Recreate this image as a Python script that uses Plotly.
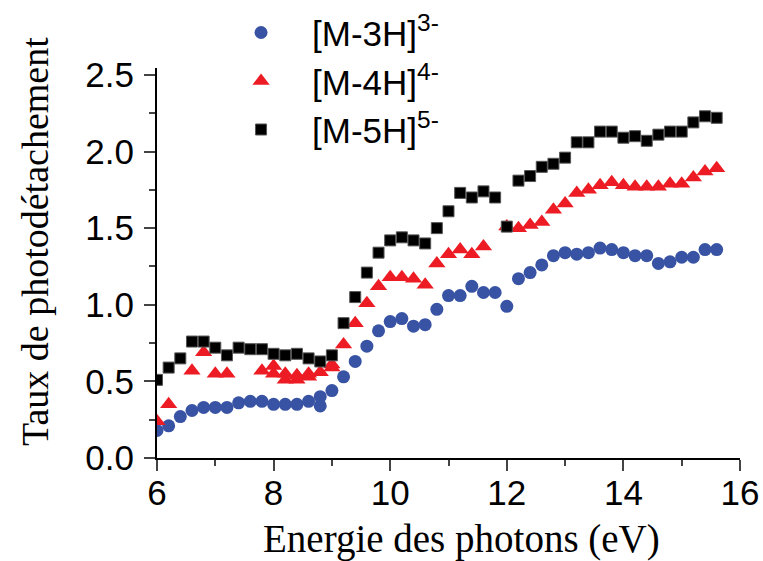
import plotly.graph_objects as go

# Energie des photons (eV)
x_3h = [6.0, 6.2, 6.4, 6.6, 6.8, 7.0, 7.2, 7.4, 7.6, 7.8, 8.0, 8.2, 8.4, 8.6, 8.8, 8.8,
        9.0, 9.2, 9.4, 9.6, 9.8, 10.0, 10.2, 10.4, 10.6, 10.8, 11.0, 11.2, 11.4, 11.6, 11.8,
        12.0, 12.2, 12.4, 12.6, 12.8, 13.0, 13.2, 13.4, 13.6, 13.8, 14.0, 14.2, 14.4, 14.6,
        14.8, 15.0, 15.2, 15.4, 15.6]
y_3h = [0.18, 0.21, 0.27, 0.31, 0.33, 0.33, 0.33, 0.36, 0.37, 0.37, 0.35, 0.35, 0.35, 0.37, 0.40, 0.34,
        0.44, 0.53, 0.63, 0.73, 0.83, 0.89, 0.91, 0.86, 0.87, 0.97, 1.06, 1.06, 1.12, 1.08, 1.08,
        0.99, 1.17, 1.21, 1.26, 1.32, 1.34, 1.33, 1.34, 1.37, 1.36, 1.34, 1.32, 1.32, 1.27,
        1.28, 1.31, 1.31, 1.36, 1.36]

x_4h = [6.0, 6.2, 6.6, 6.8, 7.0, 7.2, 7.8, 8.0, 8.0, 8.2, 8.2, 8.4, 8.4, 8.6, 8.6, 8.8,
        9.0, 9.0, 9.2, 9.4, 9.6, 9.8, 10.0, 10.2, 10.4, 10.6, 10.8, 11.0, 11.2, 11.4, 11.6,
        12.0, 12.2, 12.4, 12.6, 12.8, 13.0, 13.2, 13.4, 13.6, 13.8, 14.0, 14.2, 14.4, 14.6,
        14.8, 15.0, 15.2, 15.4, 15.6]
y_4h = [0.24, 0.35, 0.57, 0.69, 0.55, 0.55, 0.57, 0.60, 0.55, 0.55, 0.51, 0.54, 0.51, 0.55, 0.53, 0.56,
        0.61, 0.59, 0.74, 0.88, 1.01, 1.12, 1.18, 1.18, 1.17, 1.13, 1.27, 1.33, 1.36, 1.33, 1.38,
        1.51, 1.50, 1.52, 1.54, 1.62, 1.66, 1.73, 1.75, 1.78, 1.80, 1.78, 1.77, 1.77, 1.77,
        1.79, 1.79, 1.83, 1.87, 1.89]

x_5h = [6.0, 6.2, 6.4, 6.6, 6.8, 7.0, 7.2, 7.4, 7.6, 7.8, 8.0, 8.2, 8.4, 8.6, 8.8,
        9.0, 9.2, 9.4, 9.6, 9.8, 10.0, 10.2, 10.4, 10.6, 10.8, 11.0, 11.2, 11.4, 11.6, 11.8,
        12.0, 12.2, 12.4, 12.6, 12.8, 13.0, 13.2, 13.4, 13.6, 13.8, 14.0, 14.2, 14.4, 14.6,
        14.8, 15.0, 15.2, 15.4, 15.6]
y_5h = [0.51, 0.59, 0.65, 0.76, 0.76, 0.72, 0.67, 0.72, 0.71, 0.71, 0.68, 0.67, 0.68, 0.65, 0.63,
        0.67, 0.88, 1.05, 1.21, 1.34, 1.42, 1.44, 1.42, 1.40, 1.50, 1.61, 1.73, 1.70, 1.74, 1.70,
        1.51, 1.81, 1.84, 1.90, 1.92, 1.96, 2.06, 2.06, 2.13, 2.13, 2.09, 2.10, 2.07, 2.11,
        2.13, 2.13, 2.19, 2.23, 2.22]

names = ["[M-3H]<sup>3-</sup>", "[M-4H]<sup>4-</sup>", "[M-5H]<sup>5-</sup>"]
x_title = "Energie des photons (eV)"
y_title = "Taux de photodétachement"
x_ticks = [6, 8, 10, 12, 14, 16]
y_ticks = [0.0, 0.5, 1.0, 1.5, 2.0, 2.5]
y_tick_labels = ["0.0", "0.5", "1.0", "1.5", "2.0", "2.5"]

fig = go.Figure()
fig.add_trace(go.Scatter(x=x_3h, y=y_3h, mode="markers", name=names[0], legendgroup="a",
                         marker=dict(symbol="circle", size=13, color="rgb(57,83,164)", line=dict(width=0))))
fig.add_trace(go.Scatter(x=x_4h, y=y_4h, mode="markers", name=names[1], legendgroup="b",
                         marker=dict(symbol="triangle-up", size=15, color="rgb(237,28,36)", line=dict(width=0))))
fig.add_trace(go.Scatter(x=x_5h, y=y_5h, mode="markers", name=names[2], legendgroup="c",
                         marker=dict(symbol="square", size=11, color="black", line=dict(width=1, color="#555"))))

serif = "Liberation Serif, Times New Roman, serif"
fig.update_layout(
    width=763, height=561,
    margin=dict(l=157, r=23, t=68, b=103, autoexpand=False),
    paper_bgcolor="white", plot_bgcolor="white",
    font=dict(family="Liberation Sans, Arial, sans-serif", color="black"),
    showlegend=True,
    legend=dict(x=0.091, y=1.166, xanchor="left", yanchor="top",
                bgcolor="rgba(0,0,0,0)", font=dict(size=35, family="Liberation Sans, Arial, sans-serif"),
                itemwidth=92, tracegroupgap=0),
    xaxis=dict(range=[6, 16], tickvals=x_ticks, ticks="outside", ticklen=11, tickwidth=2,
               showline=True, linewidth=2, linecolor="black", showgrid=False, zeroline=False,
               tickfont=dict(size=35), automargin=False, ticklabelstandoff=-8,
               minor=dict(dtick=1, tick0=6, ticks="outside", ticklen=6, tickwidth=2, showgrid=False)),
    yaxis=dict(range=[0, 2.545], tickvals=y_ticks, ticktext=y_tick_labels, ticks="outside", ticklen=11,
               tickwidth=2, showline=True, linewidth=2, linecolor="black", showgrid=False, zeroline=False,
               tickfont=dict(size=35), automargin=False, ticklabelstandoff=3,
               minor=dict(dtick=0.25, tick0=0, ticks="outside", ticklen=6, tickwidth=2, showgrid=False)),
    annotations=[
        dict(text=x_title, xref="paper", yref="paper", x=0.523, y=-0.207, xanchor="center", yanchor="middle",
             showarrow=False, font=dict(family=serif, size=39)),
        dict(text=y_title, xref="paper", yref="paper", x=-0.209, y=0.554, xanchor="center",
             yanchor="middle", textangle=-90, showarrow=False, font=dict(family=serif, size=38)),
    ],
)

fig.write_html("out.html", config={"displayModeBar": False},
               post_script="document.body.style.margin='0';")
